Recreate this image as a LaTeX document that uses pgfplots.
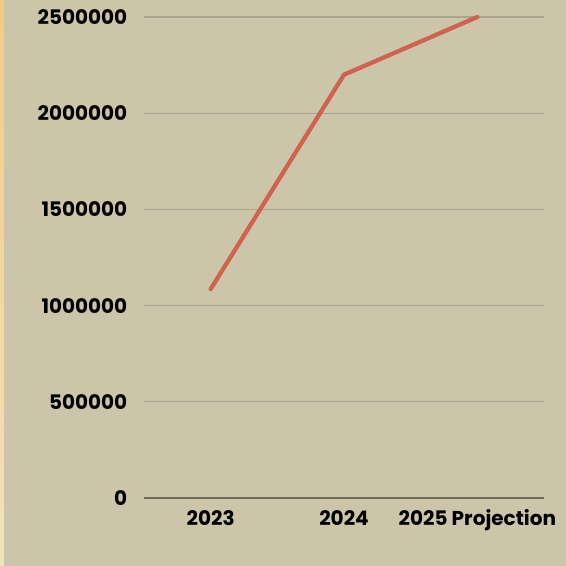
\documentclass[border=0pt]{standalone}
\usepackage{pgfplots}
\pgfplotsset{compat=1.18}
\usepackage{fontspec}
\setmainfont{Poppins}
\definecolor{bgc}{HTML}{CCC5A9}
\definecolor{gridc}{HTML}{ABA48D}
\definecolor{axisc}{HTML}{6E6A5C}
\definecolor{linec}{HTML}{CF6250}
\definecolor{striptop}{HTML}{F5C987}
\definecolor{stripbot}{HTML}{F3E2B8}
\begin{document}
\begin{tikzpicture}[x=0.75pt,y=0.75pt]
\fill[bgc] (0,0) rectangle (566,566);
\shade[top color=striptop, bottom color=stripbot] (0,0) rectangle (3.5,566);
\begin{axis}[
  at={(108pt,51pt)}, anchor=south west,
  scale only axis, width=300pt, height=360.75pt,
  xmin=-0.5, xmax=2.5, ymin=0, ymax=2500000,
  xtick={0,1,2}, xticklabels={2023,2024,2025 Projection},
  ytick={0,500000,1000000,1500000,2000000,2500000},
  yticklabels={0,500000,1000000,1500000,2000000,2500000},
  scaled y ticks=false,
  axis x line*=bottom, axis y line*=left,
  x axis line style={axisc, line width=1.1pt, -},
  y axis line style={draw=none},
  major tick length=0pt,
  ymajorgrids, grid style={gridc, line width=0.9pt},
  tick label style={font=\bfseries\fontsize{15}{18}\selectfont, text=black},
  yticklabel style={anchor=east, xshift=-9pt},
  xticklabel style={anchor=base, yshift=-21pt},
  clip=false,
]
\addplot[linec, line width=3.2pt, line cap=round, line join=round] coordinates {
  (0,1086000) (1,2200000) (2,2500000)
};
\end{axis}
\pgfresetboundingbox
\useasboundingbox (0,0) rectangle (566,566);
\end{tikzpicture}
\end{document}
